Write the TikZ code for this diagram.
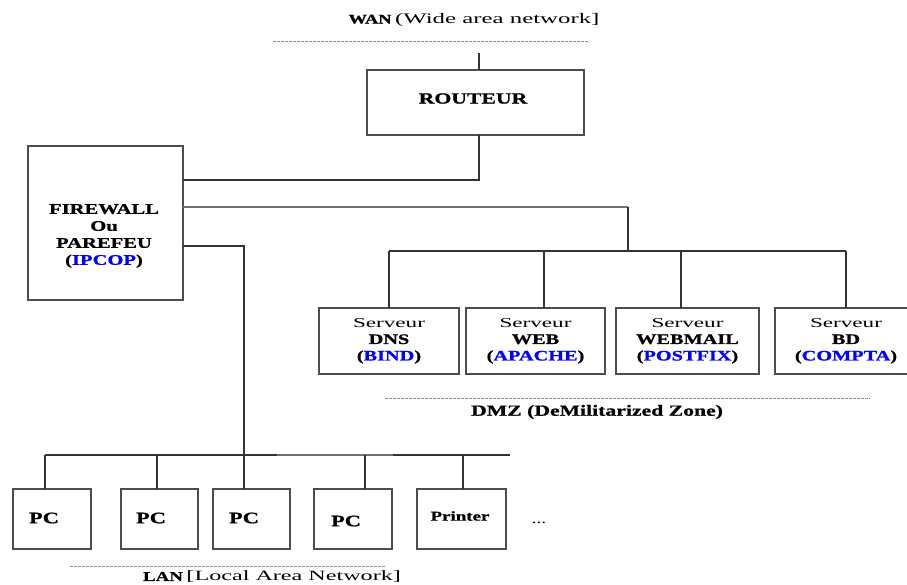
\documentclass[tikz,border=0pt]{standalone}
\usepackage{fontspec}
\setmainfont{Liberation Serif}[FakeStretch=1.4, BoldFeatures={FakeBold=1}]
\newfontfamily\regwide{Liberation Serif}[FakeStretch=1.7]
\definecolor{wirecol}{HTML}{333333}
\definecolor{lightwire}{HTML}{707070}
\definecolor{framecol}{HTML}{4D4D4D}
\definecolor{dashgray}{HTML}{8C8C8C}
\definecolor{ipblue}{HTML}{0000FF}
\begin{document}
\begin{tikzpicture}[x=1pt,y=-1pt,
  box/.style={draw=framecol, line width=1.3pt, fill=white, inner sep=0pt, outer sep=0pt, anchor=north west, align=center},
  wire/.style={draw=wirecol, line width=1.7pt},
  lightbus/.style={draw=lightwire, line width=1.7pt},
  zone/.style={draw=dashgray, line width=0.8pt, dash pattern=on 2.5pt off 1.5pt},
  lbl/.style={inner sep=0pt, align=center, text=black},
  srvfont/.style={font=\fontsize{14.5}{16.5}\selectfont\bfseries},
  pcfont/.style={font=\fontsize{16}{18}\selectfont\bfseries}
]
\useasboundingbox (0,0) rectangle (907,584);

% ---------- WAN ----------
\node[lbl] (wanlbl) at (474,20) {{\fontsize{13.2}{14}\selectfont\bfseries WAN} {\regwide\fontsize{14.6}{16}\selectfont (Wide area network]}};
\coordinate (wanl) at (273,41);
\coordinate (wanr) at (588,41);
\draw[zone] (wanl) -- (wanr);

% ---------- Router ----------
\node[box, minimum width=217pt, minimum height=65pt] (router) at (367,70) {};
\node[lbl, font=\fontsize{15.5}{18}\selectfont\bfseries] (routertxt) at (473,98.5) {ROUTEUR};

% ---------- Firewall ----------
\node[box, minimum width=155pt, minimum height=154pt] (fw) at (28,146) {};
\node[lbl, font=\fontsize{14.7}{17}\selectfont\bfseries] (fwtxt) at (104,236)
  {FIREWALL\\Ou\\PAREFEU\\(\textcolor{ipblue}{IPCOP})};

% ---------- Servers ----------
\node[box, srvfont, minimum width=140pt, minimum height=66pt] (dns) at (319,308)
  {{\regwide\mdseries\fontsize{13.6}{16.5}\selectfont Serveur}\\DNS\\(\textcolor{ipblue}{BIND})};
\node[box, srvfont, minimum width=139pt, minimum height=66pt] (web) at (466,308)
  {{\regwide\mdseries\fontsize{13.6}{16.5}\selectfont Serveur}\\WEB\\(\textcolor{ipblue}{APACHE})};
\node[box, srvfont, minimum width=143pt, minimum height=66pt] (mail) at (616,308)
  {{\regwide\mdseries\fontsize{13.6}{16.5}\selectfont Serveur}\\WEBMAIL\\(\textcolor{ipblue}{POSTFIX})};
\node[box, srvfont, minimum width=142pt, minimum height=66pt] (bd) at (775,308)
  {{\regwide\mdseries\fontsize{13.6}{16.5}\selectfont Serveur}\\BD\\(\textcolor{ipblue}{COMPTA})};

\coordinate (dmzl) at (385,398);
\coordinate (dmzr) at (870,398);
\draw[zone] (dmzl) -- (dmzr);
\node[lbl, font=\fontsize{15.5}{18}\selectfont\bfseries] (dmzlbl) at (597,412) {DMZ (DeMilitarized Zone)};

% ---------- LAN ----------
\node[box, minimum width=78pt, minimum height=60pt] (pc1) at (13,489) {};
\node[box, minimum width=77pt, minimum height=60pt] (pc2) at (121,489) {};
\node[box, minimum width=77pt, minimum height=60pt] (pc3) at (213,489) {};
\node[box, line width=1.8pt, minimum width=78pt, minimum height=60pt] (pc4) at (314,489) {};
\node[box, minimum width=89pt, minimum height=60pt] (prn) at (417,489) {};
\node[lbl, pcfont] (pc1txt) at (44,518) {PC};
\node[lbl, pcfont] (pc2txt) at (151,518) {PC};
\node[lbl, pcfont] (pc3txt) at (244,518) {PC};
\node[lbl, pcfont] (pc4txt) at (346,521) {PC};
\node[lbl, font=\fontsize{13.5}{15}\selectfont\bfseries] (prntxt) at (460,516) {Printer};
\node[lbl, font=\fontsize{14}{15}\selectfont] (dots) at (539,523) {...};

\coordinate (lanl) at (70,566);
\coordinate (lanr) at (385,566);
\draw[zone] (lanl) -- (lanr);
\node[lbl] (lanlbl) at (272,577) {{\fontsize{13.5}{14}\selectfont\bfseries LAN} {\regwide\fontsize{14.2}{16}\selectfont [Local Area Network]}};

% ---------- Connectors ----------
\coordinate (wanjoin) at (479,53);
\draw[wire] (wanjoin) -- (wanjoin |- router.north);

\coordinate (rfbend) at (479,180);
\draw[wire] (router.south -| rfbend) -- (rfbend) -- (rfbend -| fw.east);

\coordinate (dmzbend) at (628,207);
\coordinate (dmzbus) at (628,251);
\draw[wire, draw=lightwire] (fw.east |- dmzbend) -- (dmzbend);
\draw[wire] (dmzbend) -- (dmzbus);

\coordinate (db1) at (389,251);
\coordinate (db2) at (544,251);
\coordinate (db3) at (681,251);
\coordinate (db4) at (846,251);
\draw[wire] (db1) -- (db4);
\draw[wire] (db1) -- (db1 |- dns.north);
\draw[wire] (db2) -- (db2 |- web.north);
\draw[wire] (db3) -- (db3 |- mail.north);
\draw[wire] (db4) -- (db4 |- bd.north);

\coordinate (lanbend) at (244,246);
\coordinate (lanbus) at (244,455);
\draw[wire] (fw.east |- lanbend) -- (lanbend) -- (lanbus);

\coordinate (lb1) at (45,455);
\coordinate (lb2) at (157,455);
\coordinate (lbg1) at (277,455);
\coordinate (lb4) at (365,455);
\coordinate (lbg2) at (393,455);
\coordinate (lb5) at (463,455);
\coordinate (lbend) at (510,455);
\draw[wire] (lb1) -- (lbg1);
\draw[lightbus] (lbg1) -- (lbg2);
\draw[wire] (lbg2) -- (lbend);
\draw[wire] (lb1) -- (lb1 |- pc1.north);
\draw[wire] (lb2) -- (lb2 |- pc2.north);
\draw[wire] (lanbus) -- (lanbus |- pc3.north);
\draw[wire] (lb4) -- (lb4 |- pc4.north);
\draw[wire] (lb5) -- (lb5 |- prn.north);
\end{tikzpicture}
\end{document}
